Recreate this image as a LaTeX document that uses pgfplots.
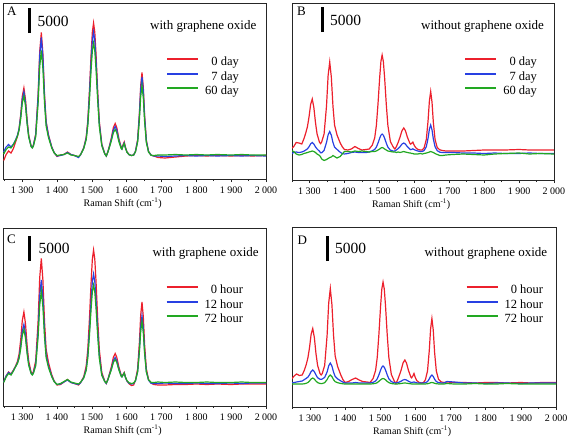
\documentclass[border=0pt]{standalone}
\usepackage{fontspec}
\setmainfont{Liberation Serif}
\usepackage{pgfplots}
\usepackage{pgfplotstable}
\pgfplotsset{compat=1.18}
\definecolor{myred}{RGB}{236,32,44}
\definecolor{myblue}{RGB}{40,64,226}
\definecolor{mygreen}{RGB}{34,168,34}

\pgfplotstableread{
x r b g
1247 -900 800 400
1254 300 1800 1300
1261 1000 2300 1800
1268 600 1800 1600
1275 1500 2400 2300
1281 2760 3224 3096
1286.6 3980 4172 3988
1291.2 5475 5450 5175
1295.8 8250 7900 7450
1300.4 11960 11304 10616
1305 13600 12800 12000
1309.6 11330 10692 10018
1314.2 7220 6788 6452
1318.8 4160 3944 3776
1325.7 2020 1948 1892
1329 1723 1676 1603
1332 2110 2051 1914
1338.9 4385 4235 3845
1345.8 12272 11792 10544
1350.4 20876 20036 17852
1355 24700 23700 21100
1359.6 20398 19578 17446
1364.2 12272 11792 10544
1368.8 6914 6654 5978
1375.7 4185 4035 3645
1384.9 1834 1774 1618
1392 678 658 606
1400 -100 0 100
1410 200 100 200
1420 300 300 300
1430 800 700 600
1440 300 300 200
1450 100 100 100
1462 -200 -300 -100
1468 300 300 300
1476.7 1644 1572 1484
1483.8 3732 3516 3252
1488.5 7125 6675 6125
1493.2 13128 12264 11208
1498 20436 19068 17396
1501.5 24773 23099 21053
1505 26600 24800 22600
1508.5 24773 23099 21053
1512.1 20336 18968 17296
1516.8 13028 12164 11108
1521.5 6925 6475 5925
1528.6 2388 2244 2068
1536.9 522 486 442
1541.5 0 0 0
1546 856 808 760
1550.9 2125 1975 1825
1556.1 3650 3350 3050
1561.9 5702 5186 4670
1567 6500 5900 5300
1571.6 5702 5186 4670
1577.4 3550 3250 2950
1584.3 1726 1618 1510
1586.4 1492 1406 1345
1589.7 2260 2100 2015
1593 2814 2602 2490
1596.3 1814 1690 1628
1600.7 840 800 780
1607 266 260 257
1614 100 100 100
1620 200 200 200
1625.3 956 920 852
1631.5 3252 3090 2784
1636.5 8500 8050 7200
1640.3 14076 13320 11892
1644 16700 15800 14100
1647.8 13748 13010 11616
1651.5 8172 7740 6924
1656.5 3152 2990 2684
1662.8 920 875 790
1670.3 164 155 138
1678 0 0 100
1690 -300 0 200
1710 -400 -100 200
1740 -200 0 300
1770 0 100 200
1800 100 0 300
1830 0 100 200
1860 100 0 300
1900 0 100 200
1930 100 0 300
1960 0 100 200
2000 100 0 200
}\tabA

\pgfplotstableread{
x r b g
1247 700 -300 400
1255 1200 0 200
1262 2000 100 -300
1270 1900 0 -500
1278 1700 100 -400
1284 2716 268 -200
1289.6 3948 504 -100
1294.2 5175 725 0
1298.8 7150 1150 100
1303.4 9636 1728 200
1308 10700 2000 300
1312.6 8978 1694 200
1317.2 5992 1116 0
1321.8 3696 708 -300
1328.7 2032 236 -600
1332 1775 -65 -900
1335 2124 -73 -1300
1341.9 3735 430 -1600
1348.8 9312 2016 -1400
1353.4 15396 3528 -1200
1358 18100 4200 -1000
1362.6 15058 3444 -900
1367.2 9312 2016 -600
1371.8 5494 1092 -800
1378.7 3535 630 -1100
1387.9 1914 52 -800
1394 1138 -216 -300
1400 600 -300 200
1410 500 -200 200
1420 700 0 100
1430 1200 100 300
1440 800 0 200
1450 500 0 300
1462 600 0 200
1471 700 100 100
1479.7 1452 340 200
1486.8 2956 620 200
1491.5 5400 1075 300
1496.2 9724 1880 500
1501 14988 2860 700
1504.5 18184 3455 900
1508 19500 3700 1000
1511.5 18184 3455 900
1515.1 14988 2860 700
1519.8 9724 1880 500
1524.5 5400 1075 300
1531.6 2204 480 200
1539.9 1076 270 100
1544.5 700 300 100
1549 1196 520 0
1553.9 2025 775 100
1559.1 3050 1150 0
1564.9 4382 1690 100
1570 4900 1900 200
1574.6 4382 1690 100
1580.4 3050 1150 0
1587.3 1866 670 -100
1589.4 1672 565 -100
1592.7 1824 625 -200
1596 2074 730 -200
1599.3 1520 586 -300
1603.7 1000 460 -300
1610 630 300 -300
1617 500 200 -200
1623 500 200 -300
1628.3 968 412 -200
1634.5 2606 1154 -100
1639.5 6350 2850 0
1643.3 10328 4652 100
1647 12200 5500 200
1650.8 10094 4546 100
1654.5 6116 2744 0
1659.5 2606 1154 -200
1665.8 985 365 -400
1673.3 517 53 -600
1681 400 0 -600
1690 300 0 -500
1710 300 0 -400
1740 300 -100 -300
1770 400 -100 -400
1800 500 -200 -500
1830 500 -100 -300
1860 500 -200 -200
1900 600 -200 -100
1930 500 -100 -300
1960 500 -200 -200
2000 500 -200 -300
}\tabB

\pgfplotstableread{
x r b g
1247 300 300 200
1254 1500 1500 1300
1261 2300 2200 2000
1268 1900 1800 1700
1275 2700 2600 2500
1281 3480 3380 3340
1286.6 4440 4140 4020
1291.2 5900 5275 5025
1295.8 8700 7450 6950
1300.4 12580 10480 9640
1305 14300 11800 10800
1309.6 11940 9890 9070
1314.2 7660 6460 5980
1318.8 4480 3880 3640
1325.7 2260 2060 1980
1329 1944 1783 1709
1332 2330 2090 1970
1338.9 4530 3885 3555
1345.8 12466 10402 9346
1350.4 21128 17516 15668
1355 25000 20700 18500
1359.6 20644 17118 15314
1364.2 12416 10352 9296
1368.8 6892 5774 5202
1375.7 4130 3485 3155
1384.9 1752 1494 1362
1392 484 398 354
1400 -300 -200 -200
1410 -200 -100 0
1420 300 300 400
1430 800 700 800
1440 200 200 300
1450 0 0 100
1462 -300 -200 -100
1468 200 200 300
1476.7 1356 1164 1076
1483.8 3468 2892 2628
1488.5 6900 5700 5150
1493.2 12972 10668 9612
1498 20364 16716 15044
1501.5 24852 20388 18342
1505 26700 21900 19700
1508.5 24852 20388 18342
1512.1 20364 16716 15044
1516.8 12972 10668 9612
1521.5 6800 5600 5050
1528.6 2212 1828 1652
1536.9 528 432 388
1541.5 0 0 100
1546 824 760 728
1550.9 2025 1825 1725
1556.1 3350 2950 2750
1561.9 5258 4570 4226
1567 6000 5200 4800
1571.6 5258 4570 4226
1577.4 3350 2950 2750
1584.3 1654 1510 1438
1586.4 1418 1345 1321
1589.7 1796 1715 1707
1593 2206 2090 2082
1596.3 1342 1280 1280
1600.7 520 500 600
1607 -52 45 145
1614 -400 -100 0
1620 -300 0 100
1625.3 652 540 592
1631.5 2934 2430 2314
1636.5 8150 6750 6250
1640.3 13692 11340 10432
1644 16300 13500 12400
1647.8 13366 11070 10186
1651.5 7824 6480 6004
1656.5 2934 2430 2314
1662.8 815 675 715
1670.3 63 35 223
1678 -200 0 200
1690 -300 0 300
1710 -300 100 200
1740 -200 0 300
1770 -200 0 200
1800 -100 100 200
1830 -200 0 300
1860 -100 0 200
1900 -200 100 200
1930 -100 0 300
1960 -100 100 200
2000 -100 100 200
}\tabC

\pgfplotstableread{
x r b g
1247 800 100 -100
1255 1500 200 -100
1262 1900 300 -100
1270 1600 400 -100
1278 1700 500 -100
1284 2640 776 -52
1289.6 3820 1028 44
1294.2 5125 1275 200
1298.8 7150 1750 500
1303.4 9840 2396 908
1308 11000 2700 1100
1312.6 9170 2358 884
1317.2 5980 1712 476
1321.8 3640 1156 188
1328.7 1980 852 -4
1332 1717 827 -28
1335 1990 894 -1
1341.9 3615 1225 170
1348.8 9588 2280 764
1353.4 16104 3540 1412
1358 19000 4100 1700
1362.6 15742 3470 1376
1367.2 9588 2280 764
1371.8 5506 1410 368
1378.7 3415 925 170
1387.9 1686 510 8
1394 762 270 -64
1400 200 100 -100
1410 400 100 -100
1420 800 100 -100
1430 1100 200 -100
1440 700 100 -100
1450 400 100 -100
1462 300 100 -100
1471 200 100 -100
1479.7 1004 236 -56
1486.8 2612 508 32
1491.5 5225 950 175
1496.2 9848 1732 428
1501 15476 2684 736
1504.5 18893 3262 923
1508 20300 3500 1000
1511.5 18893 3262 923
1515.1 15476 2684 736
1519.8 9848 1732 428
1524.5 5225 950 175
1531.6 1808 372 -12
1539.9 502 168 -78
1544.5 0 100 -100
1549 636 156 -84
1553.9 1550 275 -50
1559.1 2600 450 0
1564.9 4112 702 72
1570 4700 800 100
1574.6 4112 702 72
1580.4 2600 450 0
1587.3 1256 226 -64
1589.4 1127 192 -88
1592.7 1509 244 -90
1596 1984 314 -90
1599.3 1280 224 -90
1603.7 600 140 -100
1610 245 100 -100
1617 100 100 -100
1623 200 100 -100
1628.3 712 164 -88
1634.5 2504 388 -46
1639.5 6600 900 50
1643.3 10952 1444 152
1647 13000 1700 200
1650.8 10696 1412 146
1654.5 6344 868 44
1659.5 2504 388 -46
1665.8 840 180 -85
1673.3 328 116 -100
1681 200 100 -100
1690 300 400 0
1710 200 300 -100
1740 200 100 -100
1770 100 100 0
1800 200 0 -100
1830 200 100 -100
1860 100 100 0
1900 200 0 -100
1930 100 100 -100
1960 200 100 -100
2000 200 100 -100
}\tabD

\pgfplotsset{
  ramanax/.style={
    scale only axis,
    width=263pt,
    xmax=2000,
    ytick=\empty,
    xtick={1300,1400,1500,1600,1700,1800,1900,2000},
    xticklabels={1 300,1 400,1 500,1 600,1 700,1 800,1 900,2 000},
    minor xtick={1250,1350,1450,1550,1650,1750,1850,1950},
    xtick pos=left,
    tick align=outside,
    major tick length=3pt,
    minor tick length=2pt,
    axis line style={line width=0.7pt, black!85},
    every tick/.style={line width=0.6pt, black!85},
    xticklabel style={font=\fontsize{10}{12}\selectfont, anchor=base, inner sep=0pt, yshift=-11.5pt},
    xlabel={Raman Shift (cm\textsuperscript{-1})},
    xlabel style={font=\fontsize{10}{12}\selectfont, at={(rel axis cs:0.455,0)}, anchor=base, inner sep=0pt, yshift=-27.5pt},
    legend cell align=right,
    legend style={draw=none, fill=none, inner sep=0pt, outer sep=0pt, anchor=north east,
      font=\fontsize{12.5}{14}\selectfont, row sep=2.5pt, column sep=6pt,
      nodes={inner sep=0pt, text height=9pt, text depth=3pt}},
    legend image code/.code={\draw[##1, line width=2pt] (0pt,3.5pt) -- (31pt,3.5pt);},
    every axis plot/.append style={line width=1.2pt},
    clip=true,
  }
}

\begin{document}
\begin{tikzpicture}
\useasboundingbox (0pt,0pt) rectangle (567pt,-439pt);

% Panel A
\begin{axis}[ramanax, at={(3pt,-3pt)}, anchor=north west, height=176pt,
  xmin=1245, ymin=-4600, ymax=30600,
  legend style={at={(rel axis cs:0.897,0.695)}}]
\addplot[color=myred] table[x=x,y=r] {\tabA};
\addplot[color=myblue] table[x=x,y=b] {\tabA};
\addplot[color=mygreen] table[x=x,y=g] {\tabA};
\legend{0 day,7 day,60 day}
\draw[line width=3pt, black] (axis cs:1320,24600) -- (axis cs:1320,29600);
\end{axis}

% Panel B
\begin{axis}[ramanax, at={(292pt,-3pt)}, anchor=north west, width=262pt, height=177pt,
  xmin=1250, ymin=-5500, ymax=29900,
  legend style={at={(rel axis cs:0.935,0.697)}}]
\addplot[color=myred] table[x=x,y=r] {\tabB};
\addplot[color=myblue] table[x=x,y=b] {\tabB};
\addplot[color=mygreen] table[x=x,y=g] {\tabB};
\legend{0 day,7 day,60 day}
\draw[line width=3pt, black] (axis cs:1336,24100) -- (axis cs:1336,29100);
\end{axis}

% Panel C
\begin{axis}[ramanax, at={(3pt,-228pt)}, anchor=north west, height=178pt,
  xmin=1245, ymin=-4500, ymax=31100,
  legend style={at={(rel axis cs:0.913,0.682)}}]
\addplot[color=myred] table[x=x,y=r] {\tabC};
\addplot[color=myblue] table[x=x,y=b] {\tabC};
\addplot[color=mygreen] table[x=x,y=g] {\tabC};
\legend{0 hour,12 hour,72 hour}
\draw[line width=3pt, black] (axis cs:1320,24500) -- (axis cs:1320,29500);
\end{axis}

% Panel D
\begin{axis}[ramanax, at={(292pt,-227pt)}, anchor=north west, width=264pt, height=180pt,
  xmin=1249, ymin=-4700, ymax=31300,
  legend style={at={(rel axis cs:0.951,0.680)}}]
\addplot[color=myred] table[x=x,y=r] {\tabD};
\addplot[color=myblue] table[x=x,y=b] {\tabD};
\addplot[color=mygreen] table[x=x,y=g] {\tabD};
\legend{0 hour,12 hour,72 hour}
\draw[line width=3pt, black] (axis cs:1349,24500) -- (axis cs:1349,29500);
\end{axis}

% panel letters, scale values, annotations
\begin{scope}[every node/.style={inner sep=0pt, anchor=base west}]
\node[font=\fontsize{13}{15}\selectfont] at (7pt,-16pt) {A};
\node[font=\fontsize{15.5}{17}\selectfont] at (37.3pt,-26pt) {5000};
\node[font=\fontsize{13}{15}\selectfont] at (150pt,-29.3pt) {with graphene oxide};

\node[font=\fontsize{13}{15}\selectfont] at (297pt,-16pt) {B};
\node[font=\fontsize{15.5}{17}\selectfont] at (330pt,-25pt) {5000};
\node[font=\fontsize{13}{15}\selectfont] at (421pt,-29.3pt) {without graphene oxide};

\node[font=\fontsize{13}{15}\selectfont] at (7pt,-243.3pt) {C};
\node[font=\fontsize{15.5}{17}\selectfont] at (38.3pt,-253.3pt) {5000};
\node[font=\fontsize{13}{15}\selectfont] at (152.3pt,-256pt) {with graphene oxide};

\node[font=\fontsize{13}{15}\selectfont] at (297.3pt,-244pt) {D};
\node[font=\fontsize{15.5}{17}\selectfont] at (335pt,-253.3pt) {5000};
\node[font=\fontsize{13}{15}\selectfont] at (424.3pt,-256pt) {without graphene oxide};
\end{scope}
\end{tikzpicture}
\end{document}
